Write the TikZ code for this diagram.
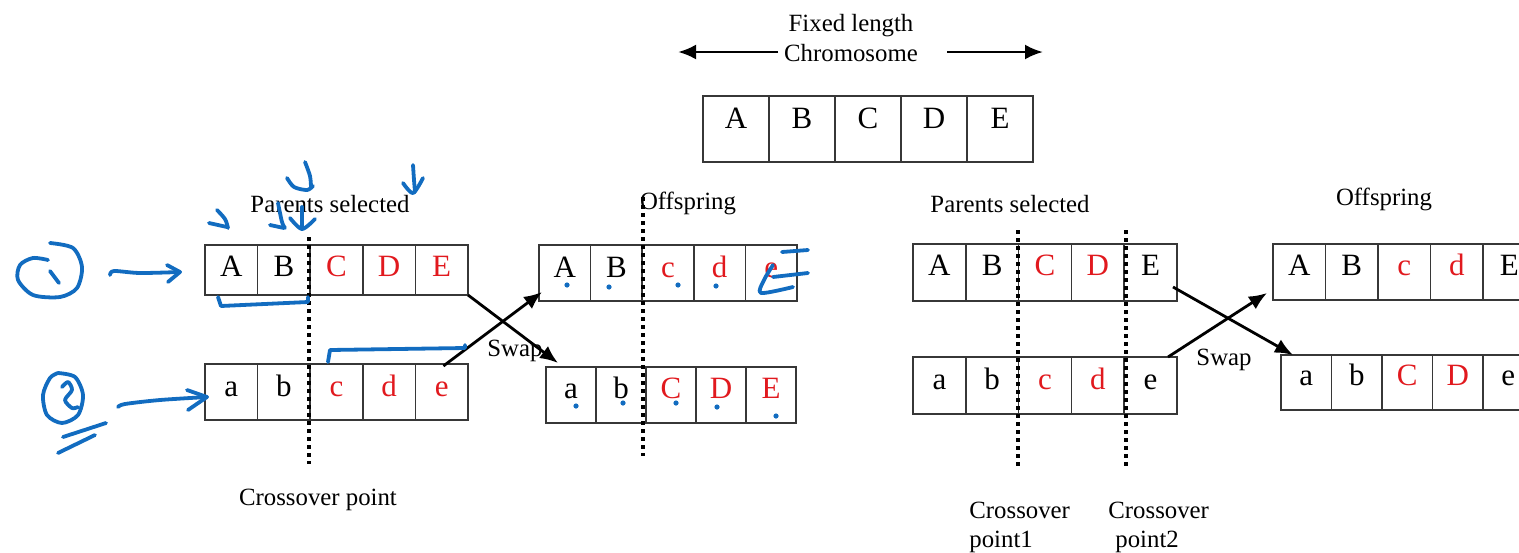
\documentclass[tikz,border=0pt]{standalone}
\usepackage{fontspec}
\setmainfont{Liberation Serif}
\usetikzlibrary{arrows.meta,calc}
\definecolor{crd}{RGB}{225,25,30}
\definecolor{annblue}{RGB}{18,108,192}
\definecolor{boxline}{RGB}{55,55,55}

% one row of gene cells: name, left x, cell width, top, bottom, baseline, letters
\newcommand\generow[7]{%
  \foreach \L/\C [count=\i] in {#7} {%
    \pgfmathsetmacro\xl{#2+(\i-1)*#3}%
    \node[cell, minimum width=#3*0.5pt, minimum height=(#5-#4)*0.5pt,
          anchor=north west] (#1-\i) at (\xl,#4) {};
    \node[letter, text=\C] (#1-\i-t) at (\xl+#3/2,#6) {\L};
  }}

\tikzset{
  cell/.style={draw=boxline, line width=0.85pt, inner sep=0pt, outer sep=0pt},
  letter/.style={inner sep=0pt, anchor=base, font=\fontsize{15.5}{18}\selectfont},
  lab/.style={inner sep=0pt, anchor=base, font=\fontsize{12.4}{14}\selectfont},
  labw/.style={lab, anchor=base west},
  swaparrow/.style={line width=1.4pt, -{Latex[length=9pt,width=7.5pt]}},
  cutline/.style={line width=2pt, dash pattern=on 1.8pt off 2.2pt},
  ann/.style={draw=annblue, line width=1.9pt, line cap=round, line join=round},
}

\begin{document}
\begin{tikzpicture}[x=0.5pt, y=-0.5pt]
\useasboundingbox (0,0) rectangle (1519,552);

% ---- fixed length chromosome ----
\node[lab] (fl) at (851,31) {Fixed length};
\node[lab] (chr) at (851,61) {Chromosome};
\coordinate (chl) at (778,52);
\coordinate (chltip) at (678,52);
\coordinate (chr0) at (947,52);
\coordinate (chrtip) at (1043,52);
\draw[swaparrow] (chl) -- (chltip);
\draw[swaparrow] (chr0) -- (chrtip);
\generow{ch}{703}{66}{96}{162}{128}{A/black,B/black,C/black,D/black,E/black}

% ---- single point crossover ----
\node[lab] (ps1) at (330,212) {Parents selected};
\node[lab] (of1) at (688,209) {Offspring};
\generow{lpa}{205}{52.6}{245}{295}{276}{A/black,B/black,C/crd,D/crd,E/crd}
\generow{lpb}{205}{52.6}{364}{420}{396}{a/black,b/black,c/crd,d/crd,e/crd}
\generow{loa}{539}{51.6}{245}{301}{277}{A/black,B/black,c/crd,d/crd,e/crd}
\generow{lob}{546}{50}{367}{423}{398}{a/black,b/black,C/crd,D/crd,E/crd}

\coordinate (cp1a) at (309,237);
\coordinate (cp1b) at (309,464);
\draw[cutline] (cp1a) -- (cp1b);
\coordinate (co1a) at (643,197);
\coordinate (co1b) at (643,456);
\draw[cutline] (co1a) -- (co1b);

\draw[swaparrow] (lpa-5.south east) -- ($(lob-1.north west)+(12,-4)$);
\draw[swaparrow] ($(lpb-5.north west)+(28,2)$) -- ($(loa-1.south west)+(3,-9)$);
\node[lab] (sw1) at (515,356) {Swap};
\node[lab] (cx1) at (318,505) {Crossover point};

% ---- two point crossover ----
\node[lab] (ps2) at (1010,212) {Parents selected};
\node[lab] (of2) at (1384,205) {Offspring};
\generow{rpa}{913}{52.8}{244}{301}{275}{A/black,B/black,C/crd,D/crd,E/black}
\generow{rpb}{913}{52.8}{357}{414}{389}{a/black,b/black,c/crd,d/crd,e/black}
\generow{roa}{1273}{52.5}{244}{300}{275}{A/black,B/black,c/crd,d/crd,E/black}
\generow{rob}{1281}{50.5}{355}{410}{385}{a/black,b/black,C/crd,D/crd,e/black}

\coordinate (cp2a) at (1018,230);
\coordinate (cp2b) at (1018,468);
\draw[cutline] (cp2a) -- (cp2b);
\coordinate (cp3a) at (1126,230);
\coordinate (cp3b) at (1126,468);
\draw[cutline] (cp3a) -- (cp3b);

\draw[swaparrow] ($(rpa-5.south east)+(-4,-14)$) -- ($(rob-1.north west)+(12,0)$);
\draw[swaparrow] ($(rpb-5.north east)+(-9,0)$) -- ($(roa-1.south west)+(-6,-7)$);
\node[lab] (sw2) at (1224,365) {Swap};
\node[labw] (cx2a) at (969,518) {Crossover};
\node[labw] (cx2b) at (969,547) {point1};
\node[labw] (cx3a) at (1108,518) {Crossover};
\node[labw] (cx3b) at (1115,547) {point2};

% ---- handwritten pen marks ----
% circled 1 with arrow to the first parent
\draw[ann] plot[smooth] coordinates {(50,243) (73,248) (82,267) (77,288) (60,297) (33,295) (18,280) (20,265) (33,258) (48,260)};
\draw[ann] (50,271) -- (59,283);
\draw[ann] plot[smooth] coordinates {(110,275) (114,271) (140,273) (180,272)};
\draw[ann] (167,265) -- (180,272) -- (168,282);
% circled 2, double underline, arrow to the second parent
\draw[ann] plot[smooth] coordinates {(58,373) (75,377) (83,395) (78,415) (62,423) (47,415) (43,395) (50,378) (58,373)};
\draw[ann] plot[smooth] coordinates {(62,387) (68,382) (72,390) (65,400) (72,408) (78,407)};
\draw[ann] (63,437) -- (106,423);
\draw[ann] (58,453) -- (95,435);
\draw[ann] plot[smooth] coordinates {(118,407) (125,404) (160,400) (207,397)};
\draw[ann] (187,390) -- (207,397) -- (188,410);
% small arrows over the first parent
\draw[ann] plot[smooth] coordinates {(217,210) (225,219) (228,228)};
\draw[ann] (209,223) -- (227,227);
\draw[ann] plot[smooth] coordinates {(278,203) (282,222) (285,228)};
\draw[ann] (270,225) -- (284,228);
\draw[ann] (302,207) -- (302,228);
\draw[ann] plot[smooth] coordinates {(290,218) (302,229) (315,219)};
\draw[ann] plot[smooth] coordinates {(305,162) (310,176) (311,187)};
\draw[ann] plot[smooth] coordinates {(287,178) (294,187) (307,190) (313,186)};
\draw[ann] plot[smooth] coordinates {(413,165) (414,180) (415,192)};
\draw[ann] plot[smooth] coordinates {(403,183) (413,193) (423,178)};
% brackets under the exchanged segments
\draw[ann] (218,297) -- (221,306) -- (308,302) -- (308,297);
\draw[ann] (328,362) -- (330,350) -- (465,348) -- (465,345);
% dots under the offspring genes
\foreach \px/\py in {567/285,609/287,678/285,716/286,576/406,623/403,676/403,717/407,776/416}
  \fill[annblue] (\px,\py) circle (1.3pt);
% marks on the last offspring gene
\draw[ann] (782,252) -- (808,250);
\draw[ann] (773,277) -- (808,273);
\draw[ann] plot[smooth] coordinates {(773,265) (764,280) (761,293) (793,287)};
\end{tikzpicture}
\end{document}
